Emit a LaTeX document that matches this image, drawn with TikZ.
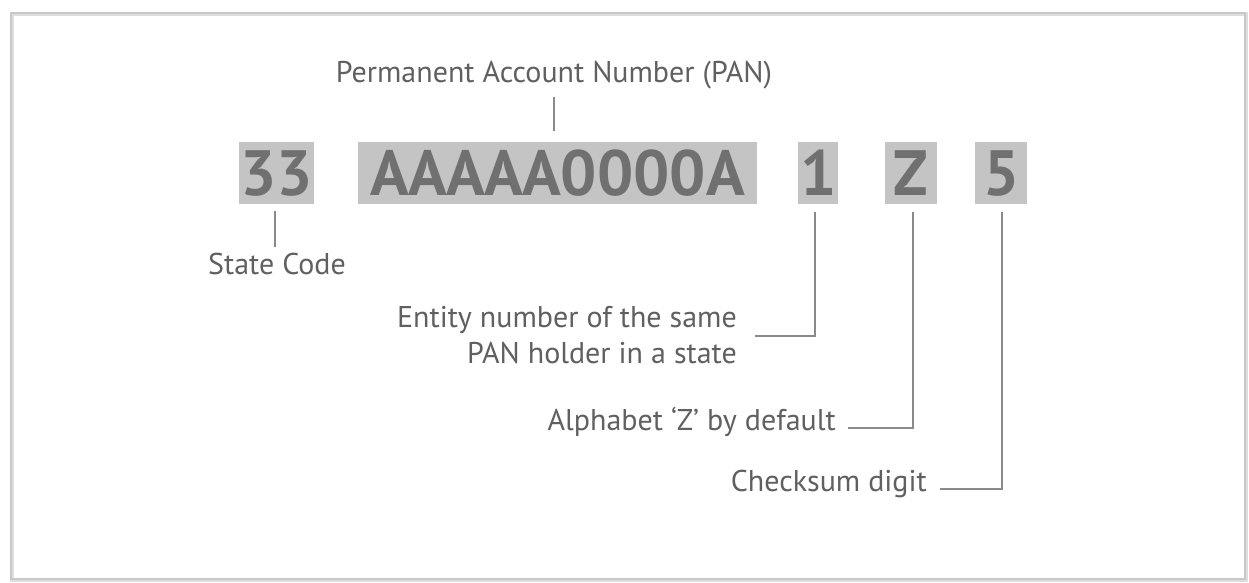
\documentclass[tikz,border=0pt]{standalone}
\usepackage{fontspec}
\setmainfont{PT Sans}
\definecolor{boxfill}{RGB}{196,196,196}
\definecolor{boxtext}{RGB}{112,112,112}
\definecolor{labeltext}{RGB}{96,96,96}
\definecolor{linecol}{RGB}{138,138,138}
\definecolor{framecol}{RGB}{200,200,200}
\begin{document}
\begin{tikzpicture}[x=1pt,y=-1pt,
  codebox/.style={fill=boxfill, text=boxtext, inner sep=0pt, minimum height=62pt,
     font=\fontsize{64}{64}\selectfont\bfseries, anchor=north west},
  lbl/.style={text=labeltext, inner sep=0pt, font=\fontsize{30}{36}\selectfont},
  lead/.style={draw=linecol, line width=1.6pt}]
\useasboundingbox (0,0) rectangle (1249,583);
\fill[white] (0,0) rectangle (1249,583);
\draw[framecol!60, line width=4pt] (12,14) rectangle (1246,580);
\draw[framecol, line width=1.5pt] (11,13) rectangle (1245,579);
% code boxes
\node[codebox, minimum width=75pt] (b33) at (239,142) {33};
\node[codebox, minimum width=399pt] (bpan) at (358,142) {AAAAA0000A};
\node[codebox, minimum width=40pt] (b1) at (798,142) {1};
\node[codebox, minimum width=52pt] (bz) at (885,142) {Z};
\node[codebox, minimum width=52pt] (b5) at (975,142) {5};
% labels
\node[lbl] (lpan) at (554,75) {Permanent Account Number (PAN)};
\node[lbl] (lstate) at (277,264) {State Code};
\node[lbl, align=right, anchor=east] (lent) at (737,335) {Entity number of the same\\PAN holder in a state};
\node[lbl, anchor=east] (lz) at (836,422) {Alphabet ‘Z’ by default};
\node[lbl, anchor=east] (l5) at (927,484) {Checksum digit};
% connector end points
\coordinate (pan1) at (554,97);
\coordinate (pan2) at (554,131);
\coordinate (st1) at (275,211);
\coordinate (st2) at (275,247);
\coordinate (e1) at (815,212);
\coordinate (e2) at (815,336);
\coordinate (e3) at (755,336);
\coordinate (z1) at (913,212);
\coordinate (z2) at (913,428);
\coordinate (z3) at (848,428);
\coordinate (f1) at (1002,212);
\coordinate (f2) at (1002,489);
\coordinate (f3) at (940,489);
% leaders
\draw[lead] (pan1) -- (pan2);
\draw[lead] (st1) -- (st2);
\draw[lead] (e1) -- (e2) -- (e3);
\draw[lead] (z1) -- (z2) -- (z3);
\draw[lead] (f1) -- (f2) -- (f3);
\end{tikzpicture}
\end{document}
